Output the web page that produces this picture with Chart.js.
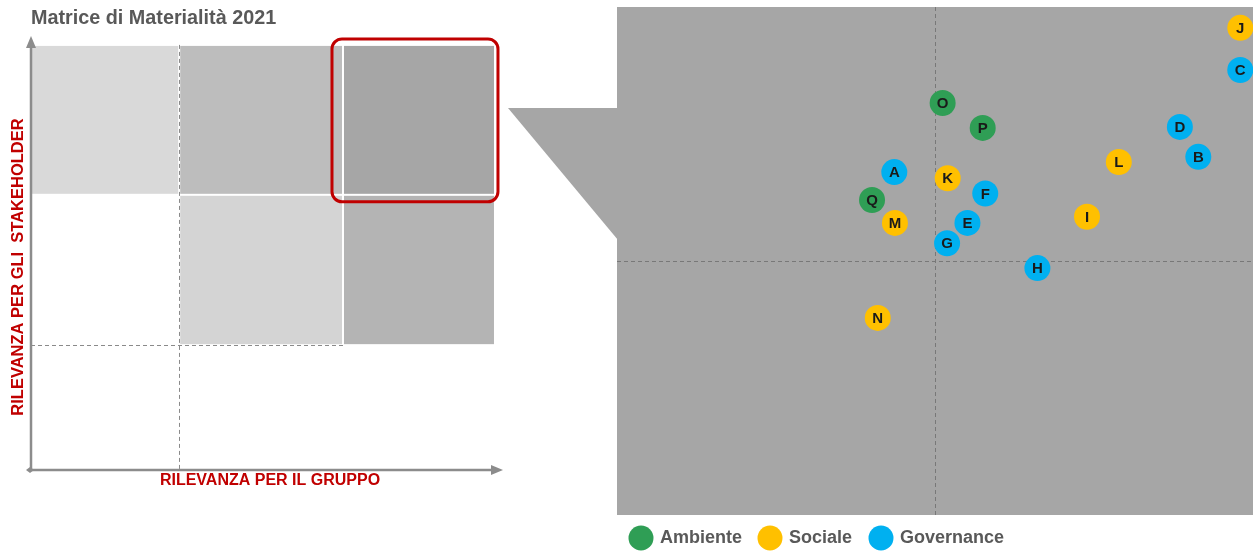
<!DOCTYPE html>
<html>
<head>
<meta charset="utf-8">
<script src="https://cdn.jsdelivr.net/npm/chart.js@4"></script>
<style>
  body { margin: 0; background: #fff; }
  #wrap { position: relative; width: 1253px; height: 553px; }
  canvas { position: absolute; top: 0; }
</style>
</head>
<body>
<div id="wrap">
  <canvas id="matrix" width="510" height="553" style="left:0"></canvas>
  <canvas id="zoom" width="753" height="553" style="left:500px"></canvas>
</div>
<script>
const FONT = '"Liberation Sans", Arial, sans-serif';
const RED = '#c00000';
const TEXT_GREY = '#595959';

// --- left matrix (schematic), values 0..100 on both axes
const titleText = 'Matrice di Materialità 2021';
const xAxisLabel = 'RILEVANZA PER IL GRUPPO';
const yAxisLabel = 'RILEVANZA PER GLI  STAKEHOLDER';
const xBands = [0, 31.4, 66.1, 98.3];
const yBands = [0, 28.9, 63.7, 98.4];
// materiality level of each cell, bottom row first
const cellLevels = [
  [0, 0, 0],
  [0, 1, 3],
  [2, 4, 5]
];
const levelColors = [null, '#d4d4d4', '#d9d9d9', '#b4b4b4', '#bdbdbd', '#a6a6a6'];
const dashX = 31.4, dashY = 28.9;

// --- right zoom (top-right cell), values 0..10
const topicCodes = {
  Ambiente:   ['O', 'P', 'Q'],
  Sociale:    ['J', 'L', 'K', 'M', 'I', 'N'],
  Governance: ['C', 'D', 'B', 'A', 'F', 'E', 'G', 'H']
};
const groupX = {
  Ambiente:   [5.12, 5.75, 4.01],
  Sociale:    [9.80, 7.89, 5.20, 4.37, 7.39, 4.10],
  Governance: [9.80, 8.85, 9.14, 4.36, 5.79, 5.51, 5.19, 6.61]
};
const groupY = {
  Ambiente:   [8.11, 7.62, 6.20],
  Sociale:    [9.59, 6.95, 6.63, 5.75, 5.87, 3.88],
  Governance: [8.76, 7.64, 7.05, 6.75, 6.33, 5.75, 5.35, 4.86]
};
const groupColors = { Ambiente: '#2f9e55', Sociale: '#ffc000', Governance: '#00b0f0' };
const midX = 5, midY = 5;

// ---------- left chart
const matrixPlugin = {
  id: 'matrixPlugin',
  beforeDatasetsDraw(chart) {
    const { ctx, chartArea: a, scales: { x, y } } = chart;
    ctx.save();
    // cells
    for (let r = 0; r < 3; r++) {
      for (let c = 0; c < 3; c++) {
        const lvl = cellLevels[r][c];
        if (!lvl) continue;
        const x0 = x.getPixelForValue(xBands[c]) + 1;
        const x1 = x.getPixelForValue(xBands[c + 1]) - 1;
        const y0 = y.getPixelForValue(yBands[r + 1]) + 1;
        const y1 = y.getPixelForValue(yBands[r]) - 1;
        ctx.fillStyle = levelColors[lvl];
        ctx.fillRect(x0, y0, x1 - x0, y1 - y0);
      }
    }
    // dashed separators
    ctx.strokeStyle = '#8a8a8a';
    ctx.lineWidth = 1;
    ctx.setLineDash([4, 3]);
    const dx = Math.round(x.getPixelForValue(dashX)) + 0.5;
    ctx.beginPath();
    ctx.moveTo(dx, y.getPixelForValue(yBands[3]));
    ctx.lineTo(dx, y.getPixelForValue(0));
    ctx.stroke();
    const dy = Math.round(y.getPixelForValue(dashY)) + 0.5;
    ctx.beginPath();
    ctx.moveTo(x.getPixelForValue(0), dy);
    ctx.lineTo(x.getPixelForValue(xBands[2]), dy);
    ctx.stroke();
    ctx.setLineDash([]);

    // axes with arrows
    const ox = x.getPixelForValue(0), oy = y.getPixelForValue(0);
    ctx.strokeStyle = '#8c8c8c';
    ctx.fillStyle = '#8c8c8c';
    ctx.lineWidth = 2.5;
    ctx.beginPath();
    ctx.moveTo(ox, oy);
    ctx.lineTo(ox, a.top + 8);
    ctx.moveTo(ox - 2, oy);
    ctx.lineTo(a.right - 8, oy);
    ctx.stroke();
    ctx.beginPath();
    ctx.moveTo(ox, a.top - 2);
    ctx.lineTo(ox - 5, a.top + 10);
    ctx.lineTo(ox + 5, a.top + 10);
    ctx.closePath();
    ctx.fill();
    ctx.beginPath();
    ctx.moveTo(a.right, oy);
    ctx.lineTo(a.right - 12, oy - 5);
    ctx.lineTo(a.right - 12, oy + 5);
    ctx.closePath();
    ctx.fill();
    ctx.beginPath();
    ctx.moveTo(ox - 5, oy);
    ctx.lineTo(ox - 1, oy - 3);
    ctx.lineTo(ox + 3, oy);
    ctx.lineTo(ox - 1, oy + 3);
    ctx.closePath();
    ctx.fill();

    // red highlight around the top-right cell
    const rx0 = x.getPixelForValue(xBands[2]) - 11;
    const rx1 = x.getPixelForValue(xBands[3]) + 3;
    const ry0 = y.getPixelForValue(yBands[3]) - 6;
    const ry1 = y.getPixelForValue(yBands[2]) + 7;
    ctx.strokeStyle = RED;
    ctx.lineWidth = 3;
    ctx.beginPath();
    ctx.roundRect(rx0, ry0, rx1 - rx0, ry1 - ry0, 10);
    ctx.stroke();

    // labels
    ctx.fillStyle = RED;
    ctx.font = 'bold 16px ' + FONT;
    ctx.textAlign = 'center';
    ctx.textBaseline = 'middle';
    ctx.fillText(xAxisLabel, (a.left + a.right) / 2 + 3, oy + 11);
    ctx.save();
    ctx.translate(a.left - 13, 267);
    ctx.rotate(-Math.PI / 2);
    ctx.font = 'bold 16.5px ' + FONT;
    ctx.fillText(yAxisLabel, 0, 0);
    ctx.restore();

    ctx.fillStyle = TEXT_GREY;
    ctx.font = 'bold 19.8px ' + FONT;
    ctx.textAlign = 'left';
    ctx.fillText(titleText, 31, 19);
    ctx.restore();
  }
};

new Chart(document.getElementById('matrix'), {
  type: 'scatter',
  data: { datasets: [{ data: [] }] },
  options: {
    responsive: false,
    animation: false,
    layout: { autoPadding: false, padding: { left: 31, top: 38, right: 7, bottom: 83 } },
    scales: {
      x: { display: false, min: 0, max: 100 },
      y: { display: false, min: 0, max: 100 }
    },
    plugins: { legend: { display: false }, tooltip: { enabled: false } }
  },
  plugins: [matrixPlugin]
});

// ---------- right chart
const groups = Object.keys(topicCodes);
const datasets = groups.map(g => ({
  label: g,
  data: groupX[g].map((v, i) => ({ x: v, y: groupY[g][i], code: topicCodes[g][i] })),
  backgroundColor: groupColors[g],
  borderWidth: 0,
  pointRadius: 13,
  pointHoverRadius: 13,
  clip: false
}));

const zoomPlugin = {
  id: 'zoomPlugin',
  beforeDatasetsDraw(chart) {
    const { ctx, chartArea: a, scales: { x, y } } = chart;
    ctx.save();
    ctx.fillStyle = '#a6a6a6';
    ctx.fillRect(a.left, a.top, a.right - a.left, a.bottom - a.top);
    // callout wedge towards the highlighted cell
    ctx.beginPath();
    ctx.moveTo(a.left - 109, a.top + 101);
    ctx.lineTo(a.left + 1, a.top + 101);
    ctx.lineTo(a.left + 1, a.top + 233);
    ctx.closePath();
    ctx.fill();
    // quadrant dashes
    ctx.strokeStyle = '#787878';
    ctx.lineWidth = 1;
    ctx.setLineDash([4, 3]);
    const px = Math.round(x.getPixelForValue(midX)) + 0.5;
    const py = Math.round(y.getPixelForValue(midY)) + 0.5;
    ctx.beginPath();
    ctx.moveTo(px, a.top);
    ctx.lineTo(px, a.bottom);
    ctx.moveTo(a.left, py);
    ctx.lineTo(a.right, py);
    ctx.stroke();
    ctx.restore();
  },
  afterDatasetsDraw(chart) {
    const { ctx, chartArea: a } = chart;
    ctx.save();
    ctx.font = 'bold 15px ' + FONT;
    ctx.fillStyle = '#1a1a1a';
    ctx.textAlign = 'center';
    ctx.textBaseline = 'middle';
    chart.data.datasets.forEach((ds, di) => {
      chart.getDatasetMeta(di).data.forEach((pt, i) => {
        ctx.fillText(ds.data[i].code, pt.x, pt.y + 1);
      });
    });
    // legend
    const ly = a.bottom + 23;
    const lx = [a.left + 24, a.left + 153, a.left + 264];
    ctx.font = 'bold 18px ' + FONT;
    ctx.textAlign = 'left';
    chart.data.datasets.forEach((ds, di) => {
      ctx.fillStyle = ds.backgroundColor;
      ctx.beginPath();
      ctx.arc(lx[di], ly, 12.5, 0, Math.PI * 2);
      ctx.fill();
      ctx.fillStyle = TEXT_GREY;
      ctx.fillText(ds.label, lx[di] + 19, ly);
    });
    ctx.restore();
  }
};

new Chart(document.getElementById('zoom'), {
  type: 'scatter',
  data: { datasets },
  options: {
    responsive: false,
    animation: false,
    layout: { autoPadding: false, padding: { left: 117, top: 7, right: 0, bottom: 38 } },
    scales: {
      x: { display: false, min: 0, max: 10 },
      y: { display: false, min: 0, max: 10 }
    },
    plugins: { legend: { display: false }, tooltip: { enabled: false } }
  },
  plugins: [zoomPlugin]
});
</script>
</body>
</html>
